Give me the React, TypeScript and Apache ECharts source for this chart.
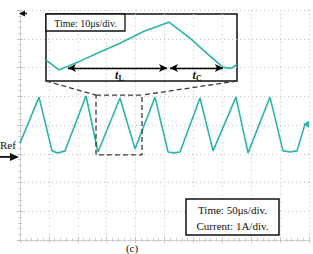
import React, { useEffect, useRef } from "react";
import * as echarts from "echarts";

// Main trace: time (µs, 50 µs/div) and level (divisions, 1 A/div)
const mainTime = [0, 32.9, 55.4, 65.7, 77.9, 114.2, 135.0, 173.0, 199.0, 233.6, 256.1, 266.4, 276.8, 311.4, 334.0, 373.7, 394.5, 432.5, 455.0, 467.1, 479.2, 493.1];
const mainLevel = [3.37, 4.97, 3.1, 3.03, 3.1, 5.01, 3.06, 4.94, 3.17, 4.97, 3.06, 3.03, 3.06, 4.94, 3.1, 4.97, 3.03, 4.97, 3.1, 3.06, 3.1, 4.03];

// Zoomed trace: time (µs, 10 µs/div) and level (divisions)
const insetTime = [0, 5.4, 14.2, 22.6, 31.0, 41.0, 51.5, 60.3, 68.7, 74.1, 76.2, 77.9, 80.0];
const insetLevel = [0.88, 0.46, 0.83, 1.21, 1.58, 2.08, 2.46, 1.79, 1.04, 0.58, 0.54, 0.54, 0.71];

const mainTimeRange = [0, 500];
const mainLevelRange = [0, 8];
const insetTimeRange = [0, 80];
const insetLevelRange = [0, 2.8];

// Zoom window on the main trace
const zoomTime = [131.5, 211.1];
const zoomLevel = [2.96, 5.04];
const refLevel = 2.89;
const triggerLevel = 4.03;

// tL / tC intervals in the inset
const tLSpan = [9.2, 50.7];
const tCSpan = [51.9, 74.1];
const spanLevel = 0.54;
const labelLevel = 0.24;

const TEAL = "#2bb5a8";
const SERIF = "'Liberation Serif', 'Times New Roman', serif";

export default function App() {
  const ref = useRef<HTMLDivElement>(null);
  useEffect(() => {
    if (!ref.current) return;
    const chart = echarts.init(ref.current, undefined, { renderer: "svg" });
    const gridAxisLine = { show: true, lineStyle: { color: "#c4c4c4", width: 1, type: [1, 2] as any } };
    const gridSplit = { show: true, lineStyle: { color: "#c4c4c4", width: 1, type: [1, 3] as any } };
    const gridTick = { show: true, inside: true, length: 3, lineStyle: { color: "#c4c4c4" } };
    const gridMinor = { show: true, splitNumber: 5, length: 2, lineStyle: { color: "#cfcfcf" } };
    const mainX = {
      type: "value", gridIndex: 0, min: mainTimeRange[0], max: mainTimeRange[1], interval: 50,
      axisLabel: { show: false }, axisLine: gridAxisLine, splitLine: gridSplit, axisTick: gridTick, minorTick: gridMinor,
    };
    const mainY = {
      type: "value", gridIndex: 0, min: mainLevelRange[0], max: mainLevelRange[1], interval: 1,
      axisLabel: { show: false }, axisLine: gridAxisLine, splitLine: gridSplit, axisTick: gridTick, minorTick: gridMinor,
    };
    chart.setOption({
      animation: false,
      backgroundColor: "#fff",
      grid: [
        { left: 20, top: 10, width: 289, height: 230 },
        { left: 46, top: 14, width: 191, height: 67, show: true, borderColor: "#111", borderWidth: 1.5, backgroundColor: "transparent" },
      ],
      xAxis: [
        { ...mainX, position: "bottom" },
        { ...mainX, position: "top" },
        { type: "value", gridIndex: 1, min: insetTimeRange[0], max: insetTimeRange[1], show: false },
      ],
      yAxis: [
        { ...mainY, position: "left" },
        { ...mainY, position: "right" },
        { type: "value", gridIndex: 1, min: insetLevelRange[0], max: insetLevelRange[1], show: false },
      ],
      series: [
        {
          type: "line", xAxisIndex: 0, yAxisIndex: 0, showSymbol: false, silent: true,
          data: mainTime.map((t, i) => [t, mainLevel[i]]),
          lineStyle: { color: TEAL, width: 1.6 },
        },
        {
          type: "line", xAxisIndex: 2, yAxisIndex: 2, showSymbol: false, silent: true,
          data: insetTime.map((t, i) => [t, insetLevel[i]]),
          lineStyle: { color: TEAL, width: 1.6 },
          markLine: {
            silent: true,
            symbol: ["arrow", "arrow"],
            symbolSize: [6, 8],
            label: { show: false },
            lineStyle: { color: "#000", width: 1.3, type: "solid" },
            data: [
              [{ coord: [tLSpan[0], spanLevel] }, { coord: [tLSpan[1], spanLevel] }],
              [{ coord: [tCSpan[0], spanLevel] }, { coord: [tCSpan[1], spanLevel] }],
            ],
          },
        },
      ],
    });

    const m = (t: number, v: number) => chart.convertToPixel({ xAxisIndex: 0, yAxisIndex: 0 }, [t, v]) as number[];
    const ins = (t: number, v: number) => chart.convertToPixel({ xAxisIndex: 2, yAxisIndex: 2 }, [t, v]) as number[];

    const zTL = m(zoomTime[0], zoomLevel[1]);
    const zTR = m(zoomTime[1], zoomLevel[1]);
    const zBR = m(zoomTime[1], zoomLevel[0]);
    const zBL = m(zoomTime[0], zoomLevel[0]);
    const iBL = ins(insetTimeRange[0], insetLevelRange[0]);
    const iBR = ins(insetTimeRange[1], insetLevelRange[0]);
    const iTL = ins(insetTimeRange[0], insetLevelRange[1]);
    const refP = m(0, refLevel);
    const trigP = m(mainTimeRange[1], triggerLevel);
    const topLeft = m(0, mainLevelRange[1]);
    const lblL = ins((tLSpan[0] + tLSpan[1]) / 2 + 0.8, labelLevel);
    const lblC = ins((tCSpan[0] + tCSpan[1]) / 2 + 0.3, labelLevel);

    const dash = { stroke: "#3a3a3a", lineWidth: 1.3, lineDash: [5, 3], fill: null };
    const subRich = (main: string, sub: string) => ({
      text: `{t|${main}}{s|${sub}}`,
      rich: {
        t: { fontFamily: SERIF, fontStyle: "italic", fontWeight: "bold", fontSize: 12, fill: "#111" },
        s: { fontFamily: SERIF, fontWeight: "bold", fontSize: 8, fill: "#111", padding: [6, 0, 0, 0] },
      },
    });

    chart.setOption({
      graphic: [
        { type: "polyline", silent: true, z: 50, shape: { points: [iBL, zTL] }, style: dash },
        { type: "polyline", silent: true, z: 50, shape: { points: [iBR, zTR] }, style: dash },
        { type: "polygon", silent: true, z: 50, shape: { points: [zTL, zTR, zBR, zBL] }, style: dash },
        // Inset title box
        { type: "rect", silent: true, z: 60, shape: { x: iTL[0], y: iTL[1], width: 79, height: 17 }, style: { fill: "#fff", stroke: "#111", lineWidth: 1.3 } },
        { type: "text", silent: true, z: 61, x: iTL[0] + 39.5, y: iTL[1] + 9, style: { text: "Time: 10μs/div.", fontFamily: SERIF, fontSize: 10, fill: "#111", align: "center", verticalAlign: "middle" } },
        // t_L / t_C labels
        { type: "text", silent: true, z: 61, x: lblL[0], y: lblL[1], style: { ...subRich("t", "L"), align: "center", verticalAlign: "middle" } },
        { type: "text", silent: true, z: 61, x: lblC[0], y: lblC[1], style: { ...subRich("t", "C"), align: "center", verticalAlign: "middle" } },
        // Scale box
        { type: "rect", silent: true, z: 60, shape: { x: 186, y: 199, width: 93, height: 36 }, style: { fill: "#fff", stroke: "#111", lineWidth: 1.5 } },
        { type: "text", silent: true, z: 61, x: 232.5, y: 209.5, style: { text: "Time: 50μs/div.", fontFamily: SERIF, fontSize: 11, fill: "#111", align: "center", verticalAlign: "middle" } },
        { type: "text", silent: true, z: 61, x: 232.5, y: 225.5, style: { text: "Current: 1A/div.", fontFamily: SERIF, fontSize: 11, fill: "#111", align: "center", verticalAlign: "middle" } },
        // Ref marker
        { type: "text", silent: true, z: 61, x: 0, y: refP[1] - 12, style: { text: "Ref", fontFamily: SERIF, fontSize: 11, fill: "#111", align: "left", verticalAlign: "middle" } },
        { type: "line", silent: true, z: 61, shape: { x1: 0, y1: refP[1], x2: 12, y2: refP[1] }, style: { stroke: "#111", lineWidth: 1.8 } },
        { type: "polygon", silent: true, z: 61, shape: { points: [[10, refP[1] - 4], [19, refP[1]], [10, refP[1] + 4]] }, style: { fill: "#111" } },
        // Trigger markers
        { type: "polygon", silent: true, z: 61, shape: { points: [[topLeft[0] - 1, topLeft[1] + 3.5], [topLeft[0] + 5, topLeft[1] + 0.5], [topLeft[0] + 5, topLeft[1] + 6.5]] }, style: { fill: "#111" } },
        { type: "line", silent: true, z: 61, shape: { x1: topLeft[0] + 4, y1: topLeft[1] + 3.5, x2: topLeft[0] + 7, y2: topLeft[1] + 3.5 }, style: { stroke: "#111", lineWidth: 1.5 } },
        { type: "polygon", silent: true, z: 61, shape: { points: [[trigP[0] - 6, trigP[1]], [trigP[0], trigP[1] - 3.5], [trigP[0], trigP[1] + 3.5]] }, style: { fill: TEAL } },
        // Caption
        { type: "text", silent: true, z: 61, x: 132, y: 242, style: { text: "(c)", fontFamily: SERIF, fontSize: 11, fill: "#111", align: "center", verticalAlign: "top" } },
      ],
    });
    return () => chart.dispose();
  }, []);
  return <div ref={ref} style={{ position: "absolute", left: 0, top: 0, width: 313, height: 254, background: "#fff" }} />;
}
